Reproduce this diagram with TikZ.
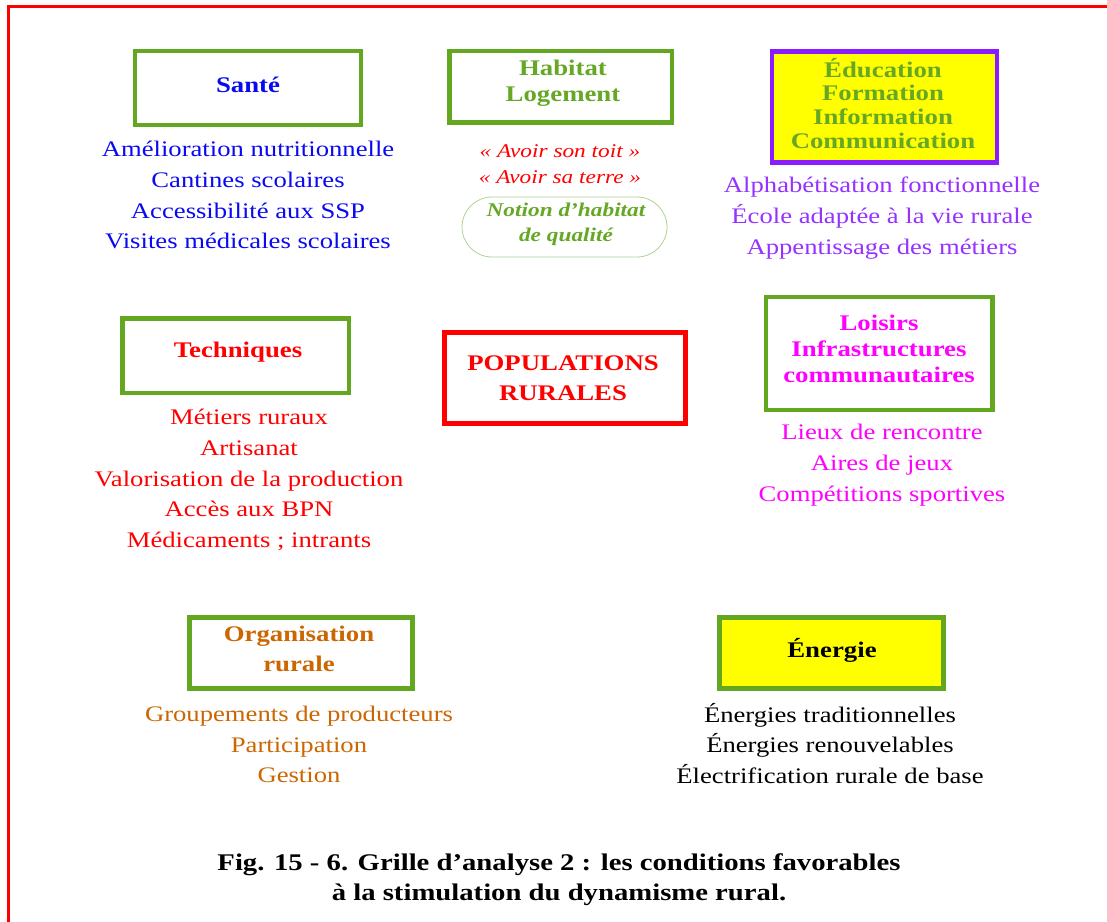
\documentclass[tikz,border=0pt]{standalone}
\usepackage{fontspec}
\setmainfont{Liberation Serif}[FakeStretch=1.2]
\definecolor{boxgreen}{RGB}{99,166,32}
\definecolor{titlegreen}{RGB}{102,168,38}
\definecolor{lightgreen}{RGB}{175,212,145}
\definecolor{boxpurple}{RGB}{138,28,255}
\definecolor{txtpurple}{RGB}{150,50,255}
\definecolor{txtblue}{RGB}{10,10,240}
\definecolor{txtorange}{RGB}{204,102,0}
\definecolor{txtmagenta}{RGB}{255,0,255}
\definecolor{boxyellow}{RGB}{255,255,0}
\definecolor{frame}{RGB}{255,0,0}
\begin{document}
\begin{tikzpicture}[x=1bp,y=-1bp,
  every node/.style={inner sep=0pt, outer sep=0pt, align=center},
  catbox/.style={draw=boxgreen, line width=4.5bp, fill=white},
  titletext/.style={font=\fontsize{22.4}{26}\selectfont\bfseries},
  listtext/.style={font=\fontsize{22.3}{31}\selectfont},
  quotetext/.style={font=\fontsize{19.5}{26}\selectfont\itshape, text=frame},
]
\useasboundingbox (0,0) rectangle (1107,922);
\fill[white] (0,0) rectangle (1107,922);

% page frame (only top and left edges fall inside the picture)
\draw[frame, line width=2.8bp] (8.5,940) |- (1120,6.5);

% --- Santé ---
\node[catbox, minimum width=226bp, minimum height=74bp] (santebox) at (248,88) {};
\node[titletext, text=txtblue] (sante) at (248,85) {Santé};
\node[listtext, text=txtblue] (santelist) at (248,195)
  {Amélioration nutritionnelle\\Cantines scolaires\\Accessibilité aux SSP\\Visites médicales scolaires};

% --- Habitat ---
\node[catbox, minimum width=222.5bp, minimum height=71.5bp] (habitatbox) at (560.75,86.75) {};
\node[titletext, text=titlegreen] (habitat) at (563,83) {Habitat\\Logement};
\node[quotetext] (habquote) at (560,164)
  {« Avoir son toit »\\« Avoir sa terre »};
\node[draw=lightgreen, line width=0.8bp, rounded corners=30bp,
  minimum width=205bp, minimum height=60bp] (notionbox) at (564.5,227) {};
\node[font=\fontsize{19.5}{25}\selectfont\bfseries\itshape, text=titlegreen]
  (notion) at (566,224.5) {Notion d’habitat\\de qualité};

% --- Éducation ---
\node[draw=boxpurple, line width=4.5bp, fill=boxyellow,
  minimum width=225bp, minimum height=111bp] (educbox) at (884.5,107) {};
\node[font=\fontsize{22.4}{24}\selectfont\bfseries, text=titlegreen]
  (educ) at (883,103.5) {Éducation\\Formation\\Information\\Communication};
\node[listtext, text=txtpurple] (educlist) at (882,218)
  {Alphabétisation fonctionnelle\\École adaptée à la vie rurale\\Appentissage des métiers};

% --- Techniques ---
\node[catbox, minimum width=226.5bp, minimum height=74.5bp] (techbox) at (235.75,355.75) {};
\node[titletext, text=frame] (tech) at (238,352) {Techniques};
\node[listtext, text=frame] (techlist) at (249,480)
  {Métiers ruraux\\Artisanat\\Valorisation de la production\\Accès aux BPN\\Médicaments ; intrants};

% --- Populations rurales ---
\node[draw=frame, line width=5bp, fill=white,
  minimum width=241bp, minimum height=91bp] (popbox) at (565,378) {};
\node[font=\fontsize{22.4}{30}\selectfont\bfseries, text=frame]
  (pop) at (563,378) {POPULATIONS\\RURALES};

% --- Loisirs ---
\node[catbox, minimum width=226.5bp, minimum height=113bp] (loisirsbox) at (879.25,353.5) {};
\node[titletext, text=txtmagenta] (loisirs) at (879,349)
  {Loisirs\\Infrastructures\\communautaires};
\node[listtext, text=txtmagenta] (loisirslist) at (882,465)
  {Lieux de rencontre\\Aires de jeux\\Compétitions sportives};

% --- Organisation rurale ---
\node[catbox, minimum width=223bp, minimum height=71bp] (orgabox) at (301,653) {};
\node[font=\fontsize{22.4}{30}\selectfont\bfseries, text=txtorange]
  (orga) at (299,649) {Organisation\\rurale};
\node[listtext, text=txtorange] (orgalist) at (299,744.5)
  {Groupements de producteurs\\Participation\\Gestion};

% --- Énergie ---
\node[catbox, fill=boxyellow, minimum width=224bp, minimum height=71bp] (energiebox) at (831.5,653) {};
\node[titletext, text=black] (energie) at (832,650) {Énergie};
\node[listtext, text=black] (energielist) at (830,743.5)
  {Énergies traditionnelles\\Énergies renouvelables\\Électrification rurale de base};

% --- caption ---
\node[font=\fontsize{24}{30}\selectfont\bfseries, text=black] (caption) at (559,880)
  {Fig. 15 - 6. Grille d’analyse 2 : les conditions favorables\\à la stimulation du dynamisme rural.};
\end{tikzpicture}
\end{document}
